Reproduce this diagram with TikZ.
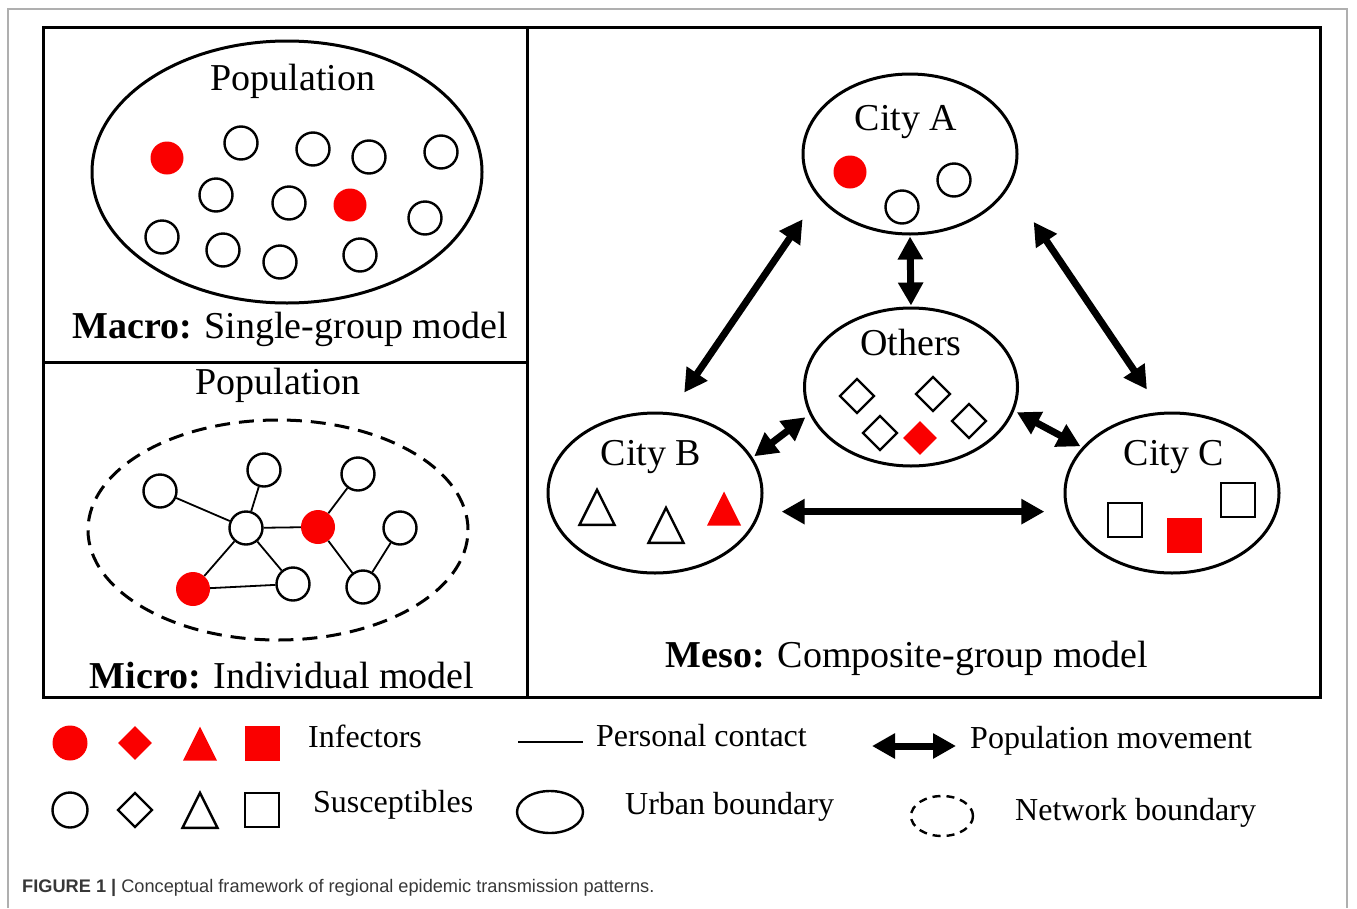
\documentclass[tikz,border=0pt]{standalone}
\usepackage{fontspec}
\setmainfont{Liberation Serif}
\newfontfamily\capfont{Liberation Sans}
\usetikzlibrary{shapes.geometric, arrows.meta}
\definecolor{infred}{RGB}{250,0,0}
\definecolor{framegray}{RGB}{175,175,175}
\definecolor{capgray}{RGB}{55,55,55}
\tikzset{
sus/.style={circle, draw, line width=2.4pt, minimum size=33pt, inner sep=0pt}, % susceptible person
inf/.style={circle, fill=infred, minimum size=33pt, inner sep=0pt}, % infector
susdia/.style={diamond, draw, line width=2.4pt, minimum width=35pt, minimum height=35pt, inner sep=0pt},
infdia/.style={diamond, fill=infred, minimum width=34pt, minimum height=34pt, inner sep=0pt},
sustri/.style={isosceles triangle, isosceles triangle stretches, shape border rotate=90, draw, line width=2.4pt, minimum width=35pt, minimum height=35pt, inner sep=0pt, yshift=-7pt},
inftri/.style={isosceles triangle, isosceles triangle stretches, shape border rotate=90, fill=infred, minimum width=34pt, minimum height=34pt, inner sep=0pt, yshift=-7pt},
sussq/.style={rectangle, draw, line width=2.4pt, minimum size=34pt, inner sep=0pt},
infsq/.style={rectangle, fill=infred, minimum size=35pt, inner sep=0pt},
city/.style={ellipse, draw, line width=3pt, minimum width=214pt, minimum height=160pt, inner sep=0pt}, % urban boundary
netbound/.style={ellipse, draw, line width=3pt, dash pattern=on 15pt off 9pt, inner sep=0pt}, % network boundary
contact/.style={line width=1.8pt}, % personal contact
move/.style={{Triangle[length=23pt,width=24pt]}-{Triangle[length=23pt,width=24pt]}, line width=7pt}, % population movement
lab/.style={anchor=base, inner sep=0pt, font=\fontsize{38}{40}\selectfont},
legtext/.style={anchor=base west, inner sep=0pt, font=\fontsize{32}{34}\selectfont},
}
\begin{document}
\begin{tikzpicture}[x=1pt, y=-1pt]
\useasboundingbox (0,0) rectangle (1357,908);
% page frame and panels
\draw[framegray, line width=1.5pt] (8,908) -- (8,9) -- (1347,9) -- (1347,908);
\draw[line width=3pt] (43,27) rectangle (1320,697);
\draw[line width=3pt] (527,27) -- (527,697);
\draw[line width=3pt] (43,362) -- (527,362);

% Macro
\node[city, minimum width=390pt, minimum height=262pt] (macro) at (287,172) {};
\node[lab] (macroPop) at (293,90) {Population};
\node[inf] (m1) at (167,158) {};
\node[inf] (m2) at (350,205) {};
\foreach \p [count=\i] in {(241,143),(313,149),(369,157),(441,152),(216,195),(289,203),(425,218),(162,237),(223,250),(280,262),(360,255)}
  \node[sus] (ms\i) at \p {};
\node[lab] (macroCap) at (290,338) {\textbf{Macro:} Single-group model};

% Micro
\node[lab] (microPop) at (278,394) {Population};
\node[netbound, minimum width=380pt, minimum height=220pt] (micro) at (278,530) {};
\node[sus] (u1) at (160,491) {};
\node[sus] (u2) at (264,470) {};
\node[sus] (u3) at (246,528) {};
\node[inf, minimum size=34pt] (u4) at (318,527) {};
\node[sus] (u5) at (358,474) {};
\node[sus] (u6) at (400,528) {};
\node[inf, minimum size=34pt] (u7) at (193,589) {};
\node[sus] (u8) at (293,584) {};
\node[sus] (u9) at (363,587) {};
\draw[contact] (u1) -- (u3);
\draw[contact] (u2) -- (u3);
\draw[contact] (u3) -- (u4);
\draw[contact] (u4) -- (u5);
\draw[contact] (u4) -- (u9);
\draw[contact] (u9) -- (u6);
\draw[contact] (u3) -- (u7);
\draw[contact] (u3) -- (u8);
\draw[contact] (u7) -- (u8);
\node[lab] (microCap) at (282,688) {\textbf{Micro:} Individual model};

% Meso
\node[city, minimum height=160pt] (cityA) at (910,154) {};
\node[city, minimum height=158pt, minimum width=213pt] (others) at (911,387) {};
\node[city] (cityB) at (655,493) {};
\node[city] (cityC) at (1172,493) {};
\node[lab] (labA) at (906,130) {City A};
\node[lab] (labO) at (911,355) {Others};
\node[lab] (labB) at (651,465) {City B};
\node[lab] (labC) at (1174,465) {City C};

\node[inf] (a1) at (850,172) {};
\node[sus] (a2) at (954,180) {};
\node[sus] (a3) at (902,207) {};

\node[susdia] (o1) at (857,396) {};
\node[susdia] (o2) at (933,394) {};
\node[susdia] (o3) at (969,421) {};
\node[susdia] (o4) at (880,433) {};
\node[infdia] (o5) at (920,438) {};

\node[sustri] (b1) at (597,507) {};
\node[sustri] (b2) at (666,525) {};
\node[inftri] (b3) at (724,508) {};

\node[sussq] (c1) at (1125,520) {};
\node[sussq] (c2) at (1238,500) {};
\node[infsq] (c3) at (1184,535) {};

\draw[move, shorten <=27pt, shorten >=24pt] (cityA.205) -- (cityB.79);
\draw[move, shorten <=1pt, shorten >=1pt] (cityA.270) -- (others.90);
\draw[move, shorten <=43pt, shorten >=27pt] (cityA.342) -- (cityC.97);
\draw[move, shorten <=5pt, shorten >=2pt] (others.195) -- (cityB.20);
\draw[move, shorten <=3pt, shorten >=2pt] (others.347) -- (cityC.153);
\draw[move, shorten <=21pt, shorten >=22pt] (cityB.350) -- (cityC.190);
\node[lab] (mesoCap) at (907,667) {\textbf{Meso:} Composite-group model};

% Legend
\node[inf, minimum size=35pt] (lgInfC) at (70,743) {};
\node[infdia] (lgInfD) at (135,743) {};
\node[inftri] (lgInfT) at (200,743) {};
\node[infsq] (lgInfS) at (262,743) {};
\node[legtext] (lgInf) at (308,747) {Infectors};
\node[sus, minimum size=35pt] (lgSusC) at (70,810) {};
\node[susdia] (lgSusD) at (135,810) {};
\node[sustri] (lgSusT) at (200,810) {};
\node[sussq] (lgSusS) at (262,810) {};
\node[legtext] (lgSus) at (313,812) {Susceptibles};

\coordinate (pcL) at (518,742);
\coordinate (pcR) at (583,742);
\draw[contact] (pcL) -- (pcR);
\node[legtext] (lgPc) at (596,746) {Personal contact};
\node[ellipse, draw, line width=2.4pt, minimum width=66pt, minimum height=42pt] (lgUrban) at (550,812) {};
\node[legtext] (lgUb) at (625,814) {Urban boundary};

\coordinate (pmL) at (872,746);
\coordinate (pmR) at (956,746);
\draw[move] (pmL) -- (pmR);
\node[legtext] (lgPm) at (970,748) {Population movement};
\node[netbound, line width=2.4pt, dash pattern=on 8pt off 6pt, minimum width=62pt, minimum height=40pt] (lgNet) at (942,816) {};
\node[legtext] (lgNb) at (1015,820) {Network boundary};

% caption
\node[anchor=base west, inner sep=0pt, text=capgray, font=\capfont\fontsize{18.2}{20}\selectfont] (caption) at (22,892) {\textbf{FIGURE 1 |} Conceptual framework of regional epidemic transmission patterns.};
\end{tikzpicture}
\end{document}
